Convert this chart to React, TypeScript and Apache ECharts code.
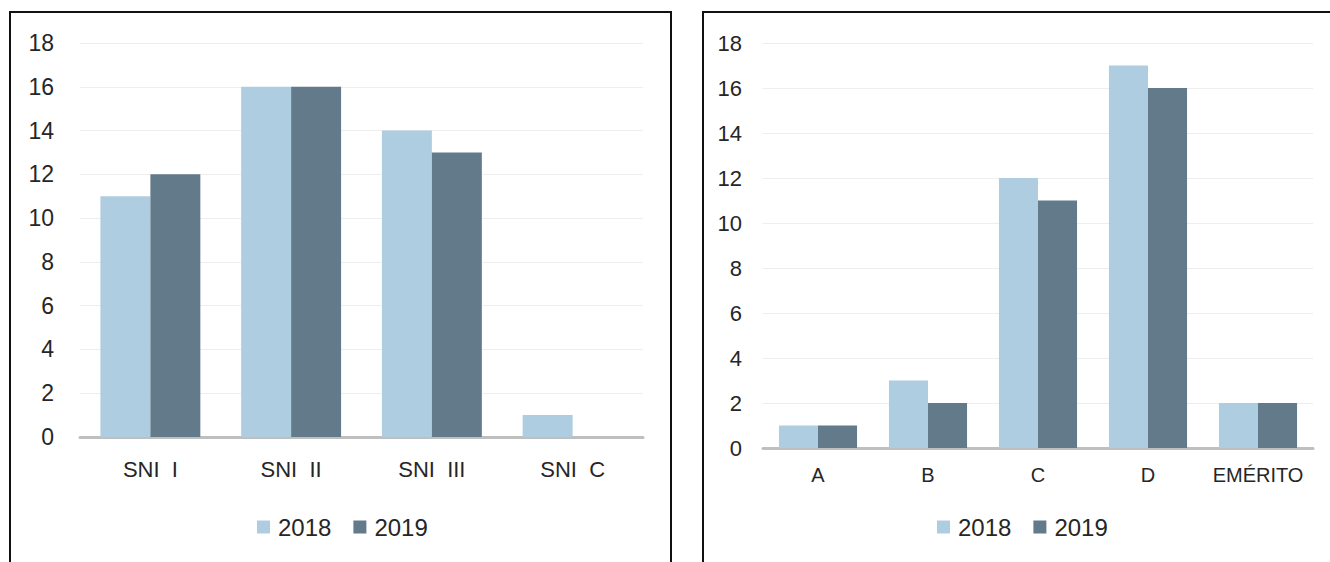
import React, { useEffect, useRef } from "react";
import * as echarts from "echarts";

const leftCategories = ["SNI  I", "SNI  II", "SNI  III", "SNI  C"];
const left2018 = [11, 16, 14, 1];
const left2019 = [12, 16, 13, 0];

const rightCategories = ["A", "B", "C", "D", "EMÉRITO"];
const right2018 = [1, 3, 12, 17, 2];
const right2019 = [1, 2, 11, 16, 2];

const seriesNames = ["2018", "2019"];
const C2018 = "#aecde1";
const C2019 = "#637a8a";
const FONT = "'Liberation Sans', Arial, sans-serif";

export default function App() {
  const ref = useRef<HTMLDivElement>(null);
  useEffect(() => {
    if (!ref.current) return;
    const chart = echarts.init(ref.current, null, { renderer: "svg" });
    const yAxisBase = (gridIndex: number, fs: number, margin: number) => ({
      type: "value",
      gridIndex,
      min: 0,
      max: 18,
      interval: 2,
      axisLine: { show: false },
      axisTick: { show: false },
      axisLabel: { color: "#262626", fontSize: fs, fontFamily: FONT, margin },
      splitLine: { lineStyle: { color: "#eeeeee", width: 1 } },
    });
    const xAxisBase = (gridIndex: number, data: string[], fs: number, margin: number) => ({
      type: "category",
      gridIndex,
      data,
      axisLine: { lineStyle: { color: "#bfbfbf", width: 3 } },
      axisTick: { show: false },
      axisLabel: { color: "#262626", fontSize: fs, fontFamily: FONT, margin, interval: 0 },
    });
    const legendBase = (left: number) => ({
      data: seriesNames,
      left,
      top: 510,
      itemWidth: 13,
      itemHeight: 13,
      itemGap: 22,
      icon: "rect",
      textStyle: { fontSize: 24, fontFamily: FONT, color: "#262626", padding: [0, 0, 0, 3] },
    });
    chart.setOption({
      animation: false,
      graphic: [
        { type: "rect", shape: { x: 10, y: 12, width: 661, height: 600 }, style: { fill: "none", stroke: "#111", lineWidth: 2 } },
        { type: "rect", shape: { x: 703, y: 12, width: 700, height: 600 }, style: { fill: "none", stroke: "#111", lineWidth: 2 } },
      ],
      grid: [
        { left: 80, top: 43, width: 563, height: 394 },
        { left: 763, top: 43, width: 550, height: 405 },
      ],
      legend: [legendBase(252), legendBase(932)],
      xAxis: [xAxisBase(0, leftCategories, 22, 21), xAxisBase(1, rightCategories, 20, 17)],
      yAxis: [yAxisBase(0, 23, 26), yAxisBase(1, 22, 21)],
      series: [
        { name: "2018", type: "bar", xAxisIndex: 0, yAxisIndex: 0, data: left2018, barGap: "0%", barCategoryGap: "29%", itemStyle: { color: C2018 } },
        { name: "2019", type: "bar", xAxisIndex: 0, yAxisIndex: 0, data: left2019, barGap: "0%", barCategoryGap: "29%", itemStyle: { color: C2019 } },
        { name: "2018", type: "bar", xAxisIndex: 1, yAxisIndex: 1, data: right2018, barGap: "0%", barCategoryGap: "29%", itemStyle: { color: C2018 } },
        { name: "2019", type: "bar", xAxisIndex: 1, yAxisIndex: 1, data: right2019, barGap: "0%", barCategoryGap: "29%", itemStyle: { color: C2019 } },
      ],
    });
    return () => chart.dispose();
  }, []);
  return (
    <div
      ref={ref}
      style={{ position: "absolute", left: 0, top: 0, width: 1330, height: 562, background: "#fff" }}
    />
  );
}
